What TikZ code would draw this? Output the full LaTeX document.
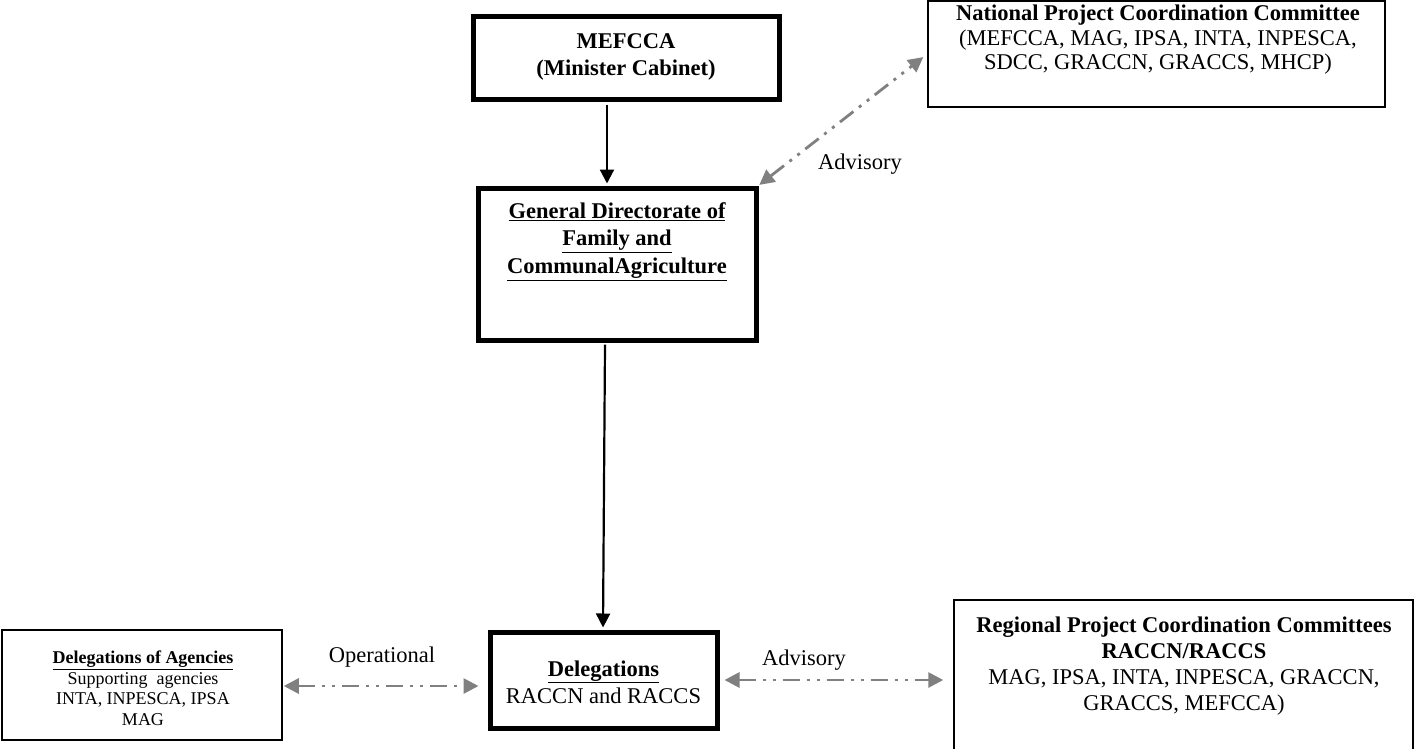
\documentclass[tikz,border=0pt]{standalone}
\usepackage{fontspec}
\setmainfont{Liberation Serif}
\usetikzlibrary{arrows.meta,calc}
\definecolor{linkgray}{HTML}{808080}
\tikzset{
  thickbox/.style={draw, line width=5pt, inner sep=0pt},
  thinbox/.style={draw, line width=1.5pt, inner sep=0pt},
  boxtext/.style={align=center, inner sep=0pt, font=\fontsize{22.5}{27}\selectfont},
  smalltext/.style={align=center, inner sep=0pt, font=\fontsize{18}{20.5}\selectfont},
  lbl/.style={inner sep=0pt, font=\fontsize{22.5}{27}\selectfont},
  graylink/.style={draw=linkgray, line width=2.8pt,
    dash pattern=on 17pt off 7pt on 3pt off 7pt on 3pt off 7pt,
    {Triangle[length=15pt,width=15pt,fill=linkgray]}-{Triangle[length=15pt,width=15pt,fill=linkgray]}},
  blacklink/.style={draw=black, line width=2.2pt, -{Triangle[length=14pt,width=14pt]}},
}
\begin{document}
\begin{tikzpicture}[x=1pt,y=-1pt]
\useasboundingbox[fill=white] (0,0) rectangle (1414,748);

% boxes
\node[thickbox, minimum width=306pt, minimum height=83pt] (mef) at (626,57.5) {};
\node[boxtext, font=\bfseries\fontsize{22.5}{27}\selectfont] (meft) at (626,57) {MEFCCA\\(Minister Cabinet)};

\node[thickbox, minimum width=278pt, minimum height=152pt] (gd) at (617,264) {};
\node[boxtext, font=\bfseries\fontsize{22.5}{27.5}\selectfont] (gdt) at (617,241.5)
  {\underline{General Directorate of}\\\underline{Family and}\\\underline{CommunalAgriculture}};

\node[thinbox, minimum width=457pt, minimum height=106pt] (tr) at (1156.5,54) {};
\node[boxtext, font=\fontsize{22.5}{24.5}\selectfont] (trt) at (1158,40)
  {\textbf{National Project Coordination Committee}\\(MEFCCA, MAG, IPSA, INTA, INPESCA,\\SDCC, GRACCN, GRACCS, MHCP)};

\node[thickbox, minimum width=227pt, minimum height=96pt] (deleg) at (603.5,680) {};
\node[boxtext] (delegt) at (603.5,682) {\textbf{\underline{Delegations}}\\RACCN and RACCS};

\node[thinbox, minimum width=280pt, minimum height=110pt] (ag) at (142,685) {};
\node[smalltext] (agt) at (143,688)
  {\textbf{\underline{Delegations of Agencies}}\\Supporting\ \ agencies\\INTA, INPESCA, IPSA\\MAG};

\node[thinbox, minimum width=459pt, minimum height=152pt] (rr) at (1183.5,676) {};
\node[boxtext, font=\fontsize{22.5}{26}\selectfont] (rrt) at (1184,666)
  {\textbf{Regional Project Coordination Committees}\\\textbf{RACCN/RACCS}\\MAG, IPSA, INTA, INPESCA, GRACCN,\\GRACCS, MEFCCA)};

% labels
\node[lbl] (adv1) at (860,164) {Advisory};
\node[lbl] (adv2) at (804,660) {Advisory};
\node[lbl] (oper) at (382,657) {Operational};

% connectors
\draw[blacklink] ([xshift=-19pt,yshift=-3pt]mef.south) -- ([xshift=-10pt,yshift=2pt]gd.north);
\draw[blacklink] ([xshift=-12pt,yshift=-2pt]gd.south) -- ([xshift=-0.5pt,yshift=2pt]deleg.north);
\draw[graylink, shorten <=1pt, shorten >=5pt] (gd.north east) -- (tr.west);
\draw[graylink, shorten <=1pt, shorten >=9pt] ([yshift=-1pt]ag.east) -- ([yshift=-1pt]deleg.west |- ag.east);
\draw[graylink, shorten <=5pt, shorten >=10pt] (deleg.east) -- (rr.west |- deleg.east);
\end{tikzpicture}
\end{document}
